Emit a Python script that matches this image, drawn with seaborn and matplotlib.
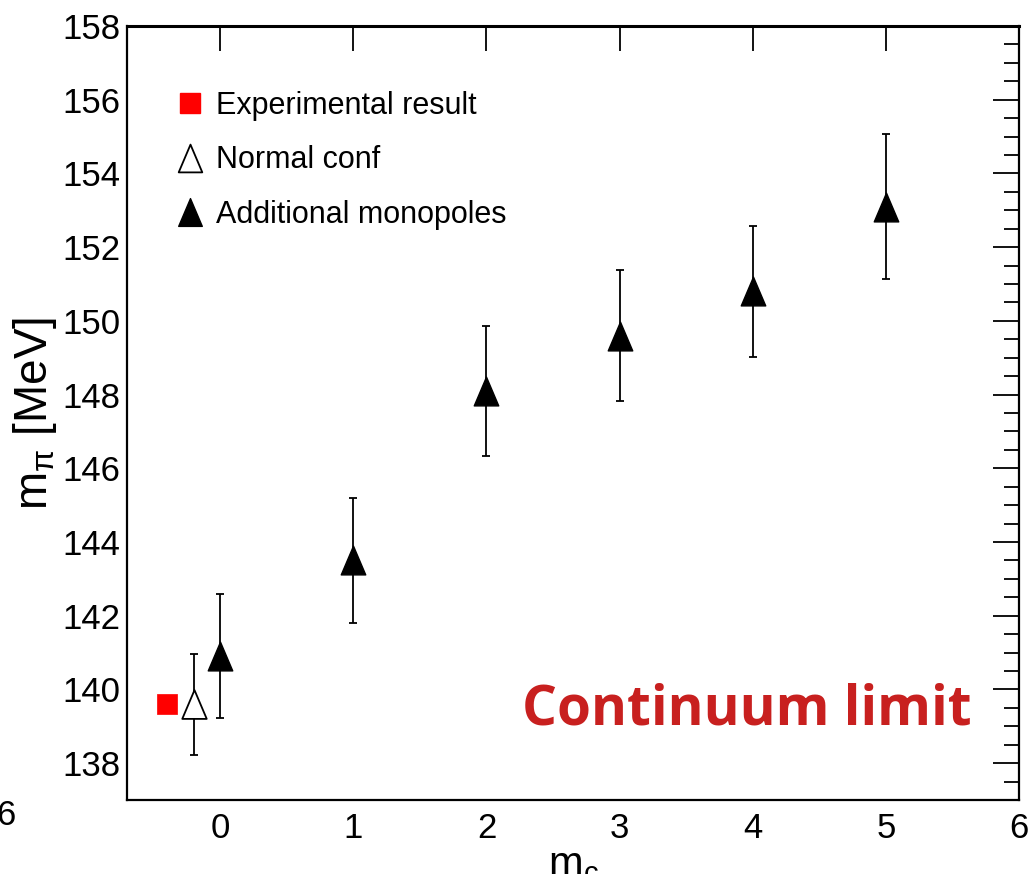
import matplotlib
matplotlib.use("Agg")
import matplotlib.pyplot as plt
from matplotlib.path import Path
from matplotlib.lines import Line2D
from matplotlib.ticker import MultipleLocator
import seaborn as sns
import pandas as pd

# ---- data ----
exp_x = [-0.40]
exp_y = [139.6]

normal_x = [-0.2]
normal_y = [139.6]
normal_err = [1.37]

mono_x = [0, 1, 2, 3, 4, 5]
mono_y = [140.9, 143.5, 148.1, 149.6, 150.8, 153.1]
mono_err = [1.68, 1.70, 1.76, 1.78, 1.78, 1.97]

legend_labels = ["Experimental result", "Normal conf", "Additional monopoles"]

sns.set_theme(style="white")
plt.rcParams['font.family'] = ['Liberation Sans', 'DejaVu Sans']
plt.rcParams['text.color'] = 'black'
plt.rcParams['axes.labelcolor'] = 'black'
plt.rcParams['xtick.color'] = 'black'
plt.rcParams['ytick.color'] = 'black'
plt.rcParams['mathtext.fontset'] = 'custom'
plt.rcParams['mathtext.rm'] = 'Liberation Sans'
plt.rcParams['mathtext.it'] = 'Liberation Sans'

tri = Path([(0, 1), (-0.85, -1), (0.85, -1), (0, 1)],
           [Path.MOVETO, Path.LINETO, Path.LINETO, Path.CLOSEPOLY])

fig = plt.figure(figsize=(10.30, 8.74), dpi=100)
ax = fig.add_axes([0.1233, 0.0847, 0.8660, 0.8856])

df_exp = pd.DataFrame({"x": exp_x, "y": exp_y})
df_norm = pd.DataFrame({"x": normal_x, "y": normal_y, "e": normal_err})
df_mono = pd.DataFrame({"x": mono_x, "y": mono_y, "e": mono_err})

ax.errorbar(df_norm["x"], df_norm["y"], yerr=df_norm["e"], fmt='none',
            ecolor='black', elinewidth=1.3, capsize=3, capthick=1.3, zorder=2)
ax.errorbar(df_mono["x"], df_mono["y"], yerr=df_mono["e"], fmt='none',
            ecolor='black', elinewidth=1.3, capsize=3, capthick=1.3, zorder=2)

sns.scatterplot(data=df_exp, x="x", y="y", marker='s', s=200, color='#ff0000',
                edgecolor='#ff0000', linewidth=0.5, ax=ax, zorder=3, legend=False)
sns.scatterplot(data=df_norm, x="x", y="y", marker=tri, s=430, color='white',
                edgecolor='black', linewidth=1.3, ax=ax, zorder=3, legend=False)
sns.scatterplot(data=df_mono, x="x", y="y", marker=tri, s=430, color='black',
                edgecolor='black', linewidth=1.0, ax=ax, zorder=3, legend=False)

ax.set_xlim(-0.7, 6)
ax.set_ylim(137, 158)
ax.xaxis.set_major_locator(MultipleLocator(1))
ax.yaxis.set_major_locator(MultipleLocator(2))
ax.yaxis.set_minor_locator(MultipleLocator(0.5))
ax.tick_params(axis='both', which='both', direction='in', top=True, right=True,
               colors='black')
ax.tick_params(axis='y', which='major', length=19, width=1.3, labelsize=25, pad=5)
ax.tick_params(axis='y', which='minor', length=11, width=1.3)
ax.tick_params(axis='x', which='major', length=18, width=1.3, labelsize=25, pad=9)
for s in ax.spines.values():
    s.set_color('black')
    s.set_linewidth(1.6)
ax.spines['top'].set_linewidth(2.2)

ax.set_xlabel(r'm$_{\mathregular{c}}$', fontsize=30, labelpad=0)
ax.set_ylabel(r'm$_{\pi}$ [MeV]', fontsize=33, labelpad=2)

handles = [
    Line2D([], [], linestyle='none', marker='s', markersize=14, color='#ff0000'),
    Line2D([], [], linestyle='none', marker=tri, markersize=20,
           markerfacecolor='white', markeredgecolor='black', markeredgewidth=1.3),
    Line2D([], [], linestyle='none', marker=tri, markersize=20,
           markerfacecolor='black', markeredgecolor='black'),
]
ax.legend(handles, legend_labels, loc='upper left', bbox_to_anchor=(0.04, 0.932),
          frameon=False, fontsize=22, handlelength=1.0, handletextpad=0.35,
          labelspacing=0.8, borderaxespad=0, labelcolor='black')

ax.text(0.6945, 0.116, 'Continuum limit', transform=ax.transAxes,
        fontsize=39.5, fontweight='bold', color='#c8201f',
        family=['Open Sans', 'DejaVu Sans'], ha='center', va='center')

fig.text(-0.004, 0.067, '6', fontsize=25, ha='left', va='center')

fig.savefig('out.png', dpi=100)
